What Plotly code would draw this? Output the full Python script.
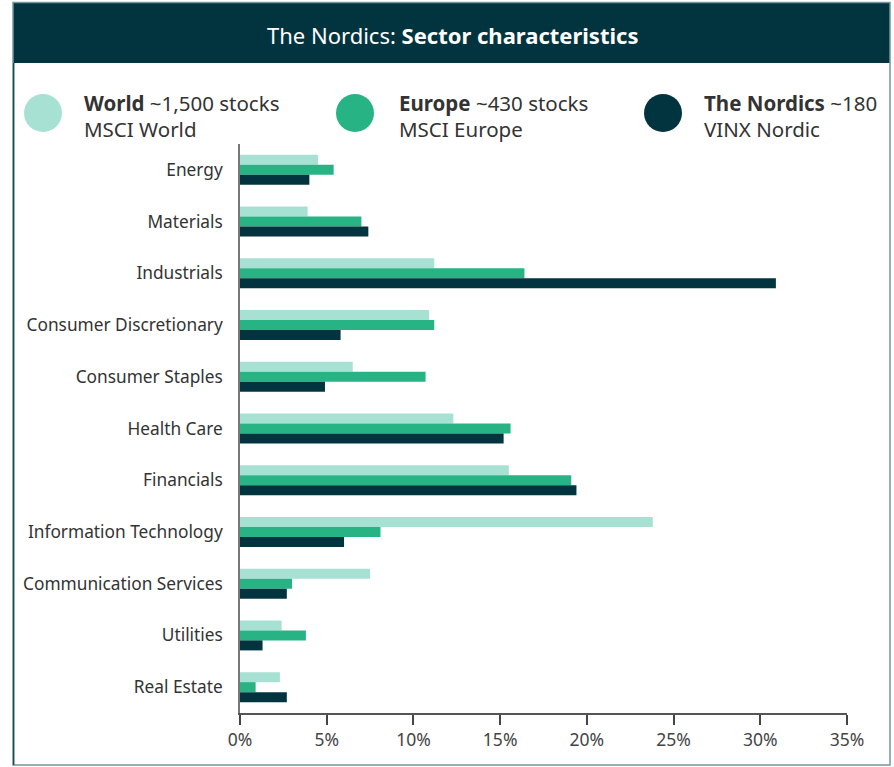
import plotly.graph_objects as go

sectors = ["Energy", "Materials", "Industrials", "Consumer Discretionary", "Consumer Staples",
           "Health Care", "Financials", "Information Technology", "Communication Services",
           "Utilities", "Real Estate"]
world = [4.5, 3.9, 11.2, 10.9, 6.5, 12.3, 15.5, 23.8, 7.5, 2.4, 2.3]
europe = [5.4, 7.0, 16.4, 11.2, 10.7, 15.6, 19.1, 8.1, 3.0, 3.8, 0.9]
nordics = [4.0, 7.4, 30.9, 5.8, 4.9, 15.2, 19.4, 6.0, 2.7, 1.3, 2.7]

series_names = ["World", "Europe", "The Nordics"]
series_counts = ["~1,500 stocks", "~430 stocks", "~180"]
series_index = ["MSCI World", "MSCI Europe", "VINX Nordic"]
colors = ["#A6E1D4", "#27B383", "#02343F"]
tick_vals = [0, 5, 10, 15, 20, 25, 30, 35]
tick_text = ["0%", "5%", "10%", "15%", "20%", "25%", "30%", "35%"]

W, H = 894, 767
L, R, T, B = 240, 47, 144, 54
PW, PH = W - L - R, H - T - B

def px(x):
    return (x - L) / PW

def py(y):
    return (H - B - y) / PH

FONT = "Segoe UI, Noto Sans, Open Sans, sans-serif"

fig = go.Figure()
for name, vals, c in zip(series_names, [world, europe, nordics], colors):
    fig.add_trace(go.Bar(y=sectors, x=vals, orientation="h", name=name,
                         marker=dict(color=c, line=dict(width=0)), showlegend=False))

shapes = []
# frame
shapes.append(dict(type="rect", xref="paper", yref="paper", x0=px(13), x1=px(890), y0=py(765), y1=py(2.5),
                   line=dict(color="#7397A0", width=1.5), fillcolor="rgba(0,0,0,0)", layer="above"))
# left frame edge (dark)
shapes.append(dict(type="line", xref="paper", yref="paper", x0=px(13.7), x1=px(13.7), y0=py(765), y1=py(63),
                   line=dict(color="#1E4A55", width=1.5), layer="above"))
# title bar
shapes.append(dict(type="rect", xref="paper", yref="paper", x0=px(13), x1=px(890), y0=py(63), y1=py(2.5),
                   line=dict(width=0), fillcolor="#02343F", layer="below"))

annotations = [dict(xref="paper", yref="paper", x=px(452), y=py(35), xanchor="center", yanchor="middle",
                    text="The Nordics: <b>Sector characteristics</b>", showarrow=False,
                    font=dict(family=FONT, size=22, color="white"))]

cx = [43, 355, 663]
tx = [82, 397, 702]
r = 19
for i in range(3):
    shapes.append(dict(type="circle", xref="paper", yref="paper",
                       x0=px(cx[i] - r), x1=px(cx[i] + r), y0=py(113 + r), y1=py(113 - r),
                       fillcolor=colors[i], line=dict(width=0)))
    annotations.append(dict(xref="paper", yref="paper", x=px(tx[i]), y=py(103), xanchor="left", yanchor="middle",
                            text=f"<b>{series_names[i]}</b> {series_counts[i]}", showarrow=False,
                            font=dict(family=FONT, size=20.5, color="#333333")))
    annotations.append(dict(xref="paper", yref="paper", x=px(tx[i]), y=py(129), xanchor="left", yanchor="middle",
                            text=series_index[i], showarrow=False,
                            font=dict(family=FONT, size=20.5, color="#333333")))

fig.update_layout(
    width=W, height=H,
    margin=dict(l=L, r=R, t=T, b=B, autoexpand=False),
    paper_bgcolor="white", plot_bgcolor="white",
    barmode="group", bargap=0.42, bargroupgap=0,
    shapes=shapes, annotations=annotations,
    font=dict(family=FONT, color="#333333"),
    xaxis=dict(range=[0, 35], tickvals=tick_vals, ticktext=tick_text, showgrid=False, zeroline=False,
               showline=True, linecolor="#555555", linewidth=1.5, ticks="outside", ticklen=10,
               tickwidth=1.5, tickcolor="#444444", tickfont=dict(size=17.5, color="#444444")),
    yaxis=dict(autorange="reversed", showgrid=False, zeroline=False, showline=True,
               linecolor="#777777", linewidth=1.5, ticks="", ticklabelstandoff=12,
               tickfont=dict(size=17.3, color="#333333")),
)

fig.write_html("out.html", config={"displayModeBar": False},
               post_script="document.body.style.margin='0';document.body.style.overflow='hidden';")
